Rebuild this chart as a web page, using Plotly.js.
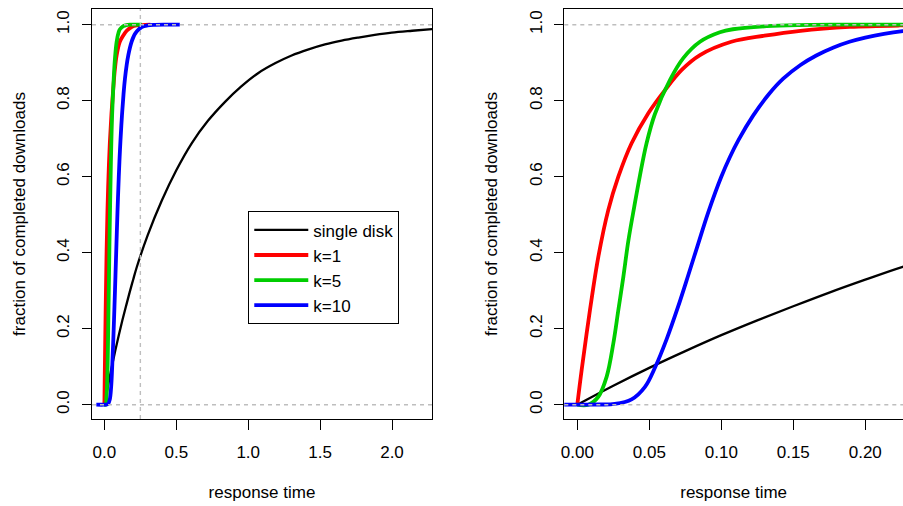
<!DOCTYPE html>
<html>
<head>
<meta charset="utf-8">
<script src="https://cdn.plot.ly/plotly-3.0.1.min.js"></script>
<style>
  html, body { margin: 0; padding: 0; background: #ffffff; }
  #chart { width: 903px; height: 506px; }
</style>
</head>
<body>
<div id="chart"></div>
<script>
// ---- data ----
var seriesNames = ["single disk", "k=1", "k=5", "k=10"];

var singleDiskX = [0, 0.025, 0.05, 0.075, 0.1, 0.125, 0.15, 0.175, 0.2, 0.226, 0.3, 0.4, 0.5, 0.607, 0.72, 0.839, 0.95, 1.071, 1.19, 1.302, 1.42, 1.534, 1.65, 1.766, 1.88, 1.998, 2.14, 2.3];
var singleDiskY = [0, 0.050, 0.097, 0.141, 0.183, 0.222, 0.259, 0.295, 0.329, 0.363, 0.445, 0.538, 0.617, 0.688, 0.747, 0.797, 0.837, 0.873, 0.899, 0.919, 0.935, 0.948, 0.958, 0.966, 0.973, 0.979, 0.984, 0.989];

var k1X = [0, 0.003, 0.0088, 0.0146, 0.0215, 0.0285, 0.0377, 0.0493, 0.0609, 0.0725, 0.0852, 0.107, 0.13, 0.155, 0.189, 0.224, 0.26, 0.32];
var k1Y = [0, 0.091, 0.249, 0.389, 0.512, 0.600, 0.688, 0.767, 0.828, 0.881, 0.920, 0.955, 0.971, 0.984, 0.994, 0.998, 0.999, 1.0];

var k5X = [0, 0.0076, 0.0146, 0.0204, 0.025, 0.0285, 0.032, 0.0354, 0.0396, 0.0435, 0.0481, 0.0539, 0.0644, 0.0736, 0.0852, 0.099, 0.108, 0.1315, 0.153, 0.18, 0.226, 0.26];
var k5Y = [0, 0, 0.021, 0.074, 0.161, 0.249, 0.337, 0.430, 0.522, 0.603, 0.688, 0.765, 0.855, 0.912, 0.955, 0.980, 0.988, 0.996, 0.999, 1.0, 1.0, 1.0];

var k10X = [-0.056, 0, 0.015, 0.026, 0.0377, 0.047, 0.054, 0.062, 0.070, 0.077, 0.084, 0.091, 0.100, 0.106, 0.112, 0.122, 0.133, 0.143, 0.155, 0.166, 0.178, 0.189, 0.2, 0.213, 0.226, 0.26, 0.3, 0.35, 0.42, 0.524];
var k10Y = [0, 0, 0.0005, 0.002, 0.014, 0.047, 0.098, 0.172, 0.258, 0.340, 0.424, 0.507, 0.600, 0.652, 0.697, 0.760, 0.817, 0.858, 0.894, 0.919, 0.940, 0.955, 0.966, 0.976, 0.983, 0.994, 0.998, 0.9995, 1.0, 1.0];

var yTickVals = [0, 0.2, 0.4, 0.6, 0.8, 1.0];
var leftXTickVals = [0, 0.5, 1.0, 1.5, 2.0];
var rightXTickVals = [0, 0.05, 0.10, 0.15, 0.20];
var refLevels = [0, 1];
var cutoffTime = 0.25;

var xTitle = "response time";
var yTitle = "fraction of completed downloads";

// ---- styling ----
var colors = ["#000000", "#FF0000", "#00CD00", "#0000FF"];
var widths = [2.3, 3.8, 3.8, 3.8];
var FONT = "Liberation Sans, Arial, Helvetica, sans-serif";
var FS = 17;

var xs = [singleDiskX, k1X, k5X, k10X];
var ys = [singleDiskY, k1Y, k5Y, k10Y];

var traces = [];
[["x", "y", true], ["x2", "y2", false]].forEach(function (p) {
  for (var i = 0; i < seriesNames.length; i++) {
    traces.push({
      type: "scatter", mode: "lines",
      x: xs[i], y: ys[i],
      xaxis: p[0], yaxis: p[1],
      name: seriesNames[i],
      showlegend: p[2],
      line: { color: colors[i], width: widths[i], shape: "spline", smoothing: 1 },
      hoverinfo: "skip"
    });
  }
});

var dashGrey = { color: "#BEBEBE", width: 1.4, dash: "4px,4px" };
var shapes = [];
refLevels.forEach(function (v) {
  shapes.push({ type: "line", xref: "x domain", yref: "y", x0: 0, x1: 1, y0: v, y1: v, line: dashGrey });
  shapes.push({ type: "line", xref: "x2 domain", yref: "y2", x0: 0, x1: 1, y0: v, y1: v, line: dashGrey });
});
shapes.push({ type: "line", xref: "x", yref: "y domain", x0: cutoffTime, x1: cutoffTime, y0: 0, y1: 1, line: dashGrey });

function yAxis(mirror, anchor) {
  return {
    anchor: anchor,
    range: [-0.0376, 1.0413],
    tickvals: yTickVals, tickformat: ".1f",
    tickangle: -90,
    ticks: "outside", ticklen: 9, tickwidth: 1, tickcolor: "#000",
    ticklabelstandoff: 6,
    showline: true, linecolor: "#000", linewidth: 1, mirror: mirror,
    showgrid: false, zeroline: false,
    tickfont: { family: FONT, size: FS, color: "#000" },
    title: { text: yTitle, font: { family: FONT, size: FS, color: "#000" }, standoff: 24 }
  };
}
function xAxis(range, vals, fmt, domain, anchor) {
  return {
    anchor: anchor, domain: domain, range: range,
    tickvals: vals, tickformat: fmt,
    ticks: "outside", ticklen: 10, tickwidth: 1, tickcolor: "#000",
    ticklabelstandoff: 8,
    showline: true, linecolor: "#000", linewidth: 1, mirror: true,
    showgrid: false, zeroline: false,
    tickfont: { family: FONT, size: FS, color: "#000" },
    title: { text: xTitle, font: { family: FONT, size: FS, color: "#000" }, standoff: 24 }
  };
}

var layout = {
  width: 903, height: 506,
  margin: { l: 92, r: 0, t: 9, b: 87, pad: 0 },
  paper_bgcolor: "#ffffff", plot_bgcolor: "#ffffff",
  font: { family: FONT, size: FS, color: "#000" },
  xaxis: xAxis([-0.0862, 2.2782], leftXTickVals, ".1f", [0, 0.41924], "y"),
  yaxis: yAxis(true, "x"),
  xaxis2: xAxis([-0.00903, 0.2262], rightXTickVals, ".2f", [0.58237, 1], "y2"),
  yaxis2: yAxis(false, "x2"),
  showlegend: true,
  legend: {
    x: 0.1927, y: 0.5065, xanchor: "left", yanchor: "top",
    bgcolor: "#ffffff", bordercolor: "#000", borderwidth: 1,
    font: { family: FONT, size: FS, color: "#000" },
    itemwidth: 54, tracegroupgap: 0
  },
  shapes: shapes
};

Plotly.newPlot("chart", traces, layout, { staticPlot: true, displayModeBar: false });
</script>
</body>
</html>
